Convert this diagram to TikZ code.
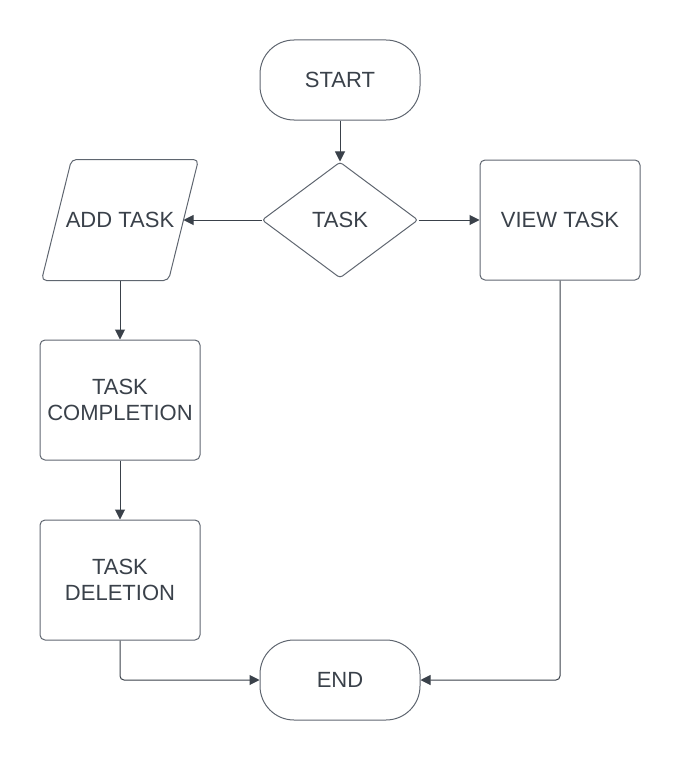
\documentclass[tikz,border=0pt]{standalone}
\usepackage{fontspec}
\setmainfont{Liberation Sans}
\usetikzlibrary{shapes.geometric,arrows.meta}

\definecolor{edgegray}{HTML}{5F6670}
\definecolor{textgray}{HTML}{3A414A}

\tikzset{
  box/.style={draw=edgegray, line width=1pt, text=textgray, align=center,
    font=\fontsize{22pt}{26.7pt}\selectfont, inner sep=0pt},
  terminal/.style={box, minimum width=160pt, minimum height=80pt, rounded corners=34pt},
  process/.style={box, minimum width=160pt, minimum height=120pt, rounded corners=5pt},
  decision/.style={box, diamond, minimum width=156pt, minimum height=116pt, rounded corners=3pt},
  conn/.style={draw=textgray, line width=1pt, -{Triangle[length=10pt,width=10pt]}},
}

\begin{document}
\begin{tikzpicture}[x=1pt, y=-1pt]
    \useasboundingbox (0, 0) rectangle (680, 760);

    \node[terminal] (start) at (340, 80) {START};
    \node[decision] (task) at (340, 220) {TASK};
    \node[process] (view) at (560, 220) {VIEW TASK};

    % input shape: text node, slanted outline drawn by hand
    \node[box, draw=none, minimum width=126pt, minimum height=120pt] (add) at (120, 220) {ADD TASK};
    \draw[edgegray, line width=1pt, rounded corners=5pt]
      ([xshift=15pt]add.north west) -- ([xshift=15pt]add.north east)
      -- ([xshift=-15pt]add.south east) -- ([xshift=-15pt]add.south west) -- cycle;

    \node[process] (compl) at (120, 400) {TASK\\COMPLETION};
    \node[process] (del) at (120, 580) {TASK\\DELETION};
    \node[terminal] (end) at (340, 680) {END};

    \draw[conn] (start) -- (task);
    \draw[conn] (task.west) -- (add.east);
    \draw[conn] (task.east) -- (view.west);
    \draw[conn] (add.south) -- (compl.north);
    \draw[conn] (compl) -- (del);
    \draw[conn, rounded corners=4pt] (del.south) |- (end.west);
    \draw[conn, rounded corners=4pt] (view.south) |- (end.east);
  \end{tikzpicture}
\end{document}
